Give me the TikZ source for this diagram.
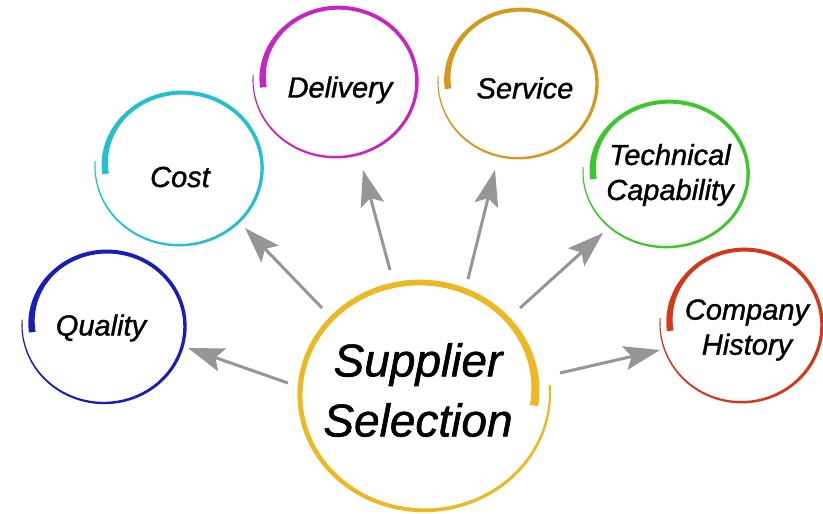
\documentclass[tikz,border=0pt]{standalone}
\usepackage{fontspec}
\setmainfont{Liberation Sans}
\usetikzlibrary{arrows.meta}
\definecolor{cblue}{RGB}{25,30,185}
\definecolor{ccyan}{RGB}{35,192,207}
\definecolor{cmag}{RGB}{200,35,195}
\definecolor{cserv}{RGB}{215,152,30}
\definecolor{cgreen}{RGB}{60,200,45}
\definecolor{cred}{RGB}{212,55,25}
\definecolor{cgold}{RGB}{236,184,35}
\definecolor{arrgray}{RGB}{150,150,150}
% brush stroke: [colour]{cx}{cy}{rx}{ry}{start angle}{sweep}{body width}{end width}
\newcommand\brush[9][black]{%
  \fill[#1] plot[domain=0:1,samples=180,variable=\s]
   ({#2+((#4)*(1-0.12*(1-\s)*(1-\s))+0.5*(#9+(#8-#9)*(1-\s*\s)+2.5*max(0,1-7*\s)))*cos(#6+(#7)*\s)},
    {#3-((#5)*(1-0.12*(1-\s)*(1-\s))+0.5*(#9+(#8-#9)*(1-\s*\s)+2.5*max(0,1-7*\s)))*sin(#6+(#7)*\s)})
   -- plot[domain=1:0,samples=180,variable=\s]
   ({#2+((#4)*(1-0.12*(1-\s)*(1-\s))-0.5*(#9+(#8-#9)*(1-\s*\s)+2.5*max(0,1-7*\s)))*cos(#6+(#7)*\s)},
    {#3-((#5)*(1-0.12*(1-\s)*(1-\s))-0.5*(#9+(#8-#9)*(1-\s*\s)+2.5*max(0,1-7*\s)))*sin(#6+(#7)*\s)})
   -- cycle;}
\tikzset{
  lbl/.style={font=\fontsize{29}{35}\selectfont\itshape\addfontfeature{FakeBold=1.2}, align=center, inner sep=0pt},
  biglbl/.style={font=\fontsize{46}{60}\selectfont\itshape\addfontfeature{FakeBold=1.2}, align=center, inner sep=0pt},
  arr/.style={draw=arrgray, line width=3pt, -{Stealth[length=36pt,width=24pt,inset=7pt]}}
}
\begin{document}
\begin{tikzpicture}[x=1pt,y=-1pt]
\useasboundingbox[fill=white] (0,0) rectangle (823,514);
% circles
\brush[cblue]{104.7}{325}{82.7}{78.6}{186}{-370}{4.2}{1}
\brush[ccyan]{179.8}{166.6}{84.8}{79.2}{186}{-370}{4.2}{1}
\brush[cmag]{336.2}{80.2}{83.2}{77.6}{186}{-370}{4.2}{1}
\brush[cserv]{518.7}{81.7}{80.7}{77.1}{186}{-370}{4.2}{1}
\brush[cgreen]{666.8}{172.2}{83.8}{75.5}{186}{-370}{4.2}{1}
\brush[cred]{742.2}{323.6}{82.2}{79.2}{186}{-370}{4.2}{1}
\brush[cgold]{423.1}{393}{126.9}{118.2}{-7}{371}{6}{2}
% labels
\node[lbl] (quality) at (101,328) {Quality};
\node[lbl] (cost) at (180,177) {Cost};
\node[lbl] (delivery) at (340,90) {Delivery};
\node[lbl] (service) at (525,88) {Service};
\node[lbl] (tech) at (670,175) {Technical\\Capability};
\node[lbl] (hist) at (747,330) {Company\\History};
\node[biglbl] (center) at (418,390) {Supplier\\Selection};
% arrow ends
\coordinate (q0) at (288,383); \coordinate (q1) at (188,348);
\coordinate (c0) at (322,308); \coordinate (c1) at (245,228);
\coordinate (d0) at (390,270); \coordinate (d1) at (363,170);
\coordinate (s0) at (468,279); \coordinate (s1) at (495,170);
\coordinate (t0) at (520,308); \coordinate (t1) at (603,233);
\coordinate (h0) at (560,373); \coordinate (h1) at (660,350);
\draw[arr] (q0) -- (q1);
\draw[arr] (c0) -- (c1);
\draw[arr] (d0) -- (d1);
\draw[arr] (s0) -- (s1);
\draw[arr] (t0) -- (t1);
\draw[arr] (h0) -- (h1);
\end{tikzpicture}
\end{document}
